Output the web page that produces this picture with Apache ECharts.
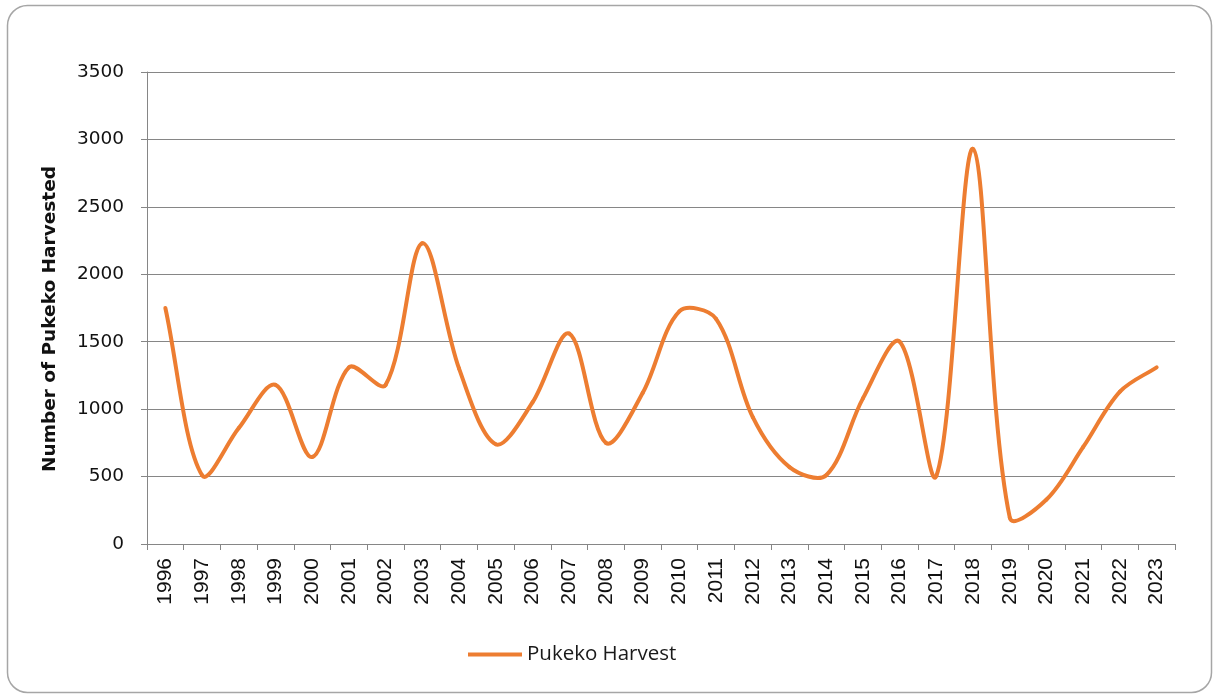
<!DOCTYPE html>
<html>
<head>
<meta charset="utf-8">
<script src="https://cdn.jsdelivr.net/npm/echarts@6/dist/echarts.min.js"></script>
<style>
html,body{margin:0;padding:0;background:#fff;}
#chart{width:1218px;height:699px;}
</style>
</head>
<body>
<div id="chart"></div>
<script>
const years = ['1996','1997','1998','1999','2000','2001','2002','2003','2004','2005','2006','2007','2008','2009','2010','2011','2012','2013','2014','2015','2016','2017','2018','2019','2020','2021','2022','2023'];
const harvest = [1750, 510, 860, 1180, 645, 1310, 1180, 2230, 1300, 740, 1050, 1560, 750, 1120, 1725, 1670, 940, 570, 510, 1080, 1500, 505, 2930, 195, 330, 720, 1130, 1310];
const yTicks = {min: 0, max: 3500, interval: 500};
const seriesName = 'Pukeko Harvest';
const yTitle = 'Number of Pukeko Harvested';

const LINE_COLOR = '#ED7D31';
const SMOOTH = 1 / 3;

function pt(api, j) {
  const k = Math.max(0, Math.min(harvest.length - 1, j));
  return api.coord([k, harvest[k]]);
}
function controls(p0, p1, p2) {
  const vx = p2[0] - p0[0], vy = p2[1] - p0[1];
  const d0 = Math.hypot(p1[0] - p0[0], p1[1] - p0[1]);
  const d1 = Math.hypot(p2[0] - p1[0], p2[1] - p1[1]);
  const sum = d0 + d1 || 1;
  const rNext = d1 / sum, rPrev = d0 / sum;
  return [
    [p1[0] - vx * SMOOTH * rPrev, p1[1] - vy * SMOOTH * rPrev],
    [p1[0] + vx * SMOOTH * rNext, p1[1] + vy * SMOOTH * rNext]
  ];
}

const chart = echarts.init(document.getElementById('chart'));
chart.setOption({
  animation: false,
  backgroundColor: '#ffffff',
  graphic: [{
    type: 'rect',
    shape: {x: 7.5, y: 5.5, width: 1204, height: 687, r: 20},
    style: {fill: 'none', stroke: '#a6a6a6', lineWidth: 1.5},
    silent: true, z: -1
  }, {
    type: 'text',
    x: 50, y: 319,
    rotation: Math.PI / 2,
    style: {
      text: yTitle,
      fontFamily: 'DejaVu Sans', fontWeight: 'bold', fontSize: 18.5,
      fill: '#111', align: 'center', verticalAlign: 'middle'
    },
    silent: true
  }],
  grid: {left: 147, right: 43, top: 72, bottom: 155, containLabel: false},
  legend: {
    data: [{name: seriesName, icon: 'rect'}],
    bottom: 29,
    left: 463,
    itemWidth: 54,
    itemHeight: 4,
    itemGap: 6,
    textStyle: {fontFamily: 'Open Sans', fontSize: 20.5, color: '#1a1a1a'}
  },
  xAxis: {
    type: 'category',
    data: years,
    boundaryGap: true,
    axisLine: {lineStyle: {color: '#868686', width: 1}},
    axisTick: {show: true, length: 6, alignWithLabel: false, lineStyle: {color: '#868686'}},
    axisLabel: {rotate: 90, fontFamily: 'Liberation Sans', fontSize: 21, color: '#111', margin: 14, interval: 0}
  },
  yAxis: {
    type: 'value',
    min: yTicks.min, max: yTicks.max, interval: yTicks.interval,
    axisLine: {show: true, lineStyle: {color: '#868686', width: 1}},
    axisTick: {show: true, length: 6, lineStyle: {color: '#868686'}},
    splitLine: {lineStyle: {color: '#868686', width: 1}},
    axisLabel: {fontFamily: 'DejaVu Sans', fontSize: 18.5, color: '#111', margin: 23, formatter: v => String(v)}
  },
  series: [{
    name: seriesName,
    type: 'custom',
    itemStyle: {color: LINE_COLOR},
    encode: {x: 0, y: 1},
    data: harvest.map((v, i) => [i, v]),
    renderItem: function (params, api) {
      const i = params.dataIndex;
      if (i >= harvest.length - 1) return null;
      const p0 = pt(api, i - 1), p1 = pt(api, i), p2 = pt(api, i + 1), p3 = pt(api, i + 2);
      const c1 = controls(p0, p1, p2)[1];
      const c2 = controls(p1, p2, p3)[0];
      return {
        type: 'bezierCurve',
        shape: {x1: p1[0], y1: p1[1], x2: p2[0], y2: p2[1], cpx1: c1[0], cpy1: c1[1], cpx2: c2[0], cpy2: c2[1]},
        style: {stroke: LINE_COLOR, lineWidth: 4, fill: null, lineCap: 'round'}
      };
    }
  }]
});
</script>
</body>
</html>
